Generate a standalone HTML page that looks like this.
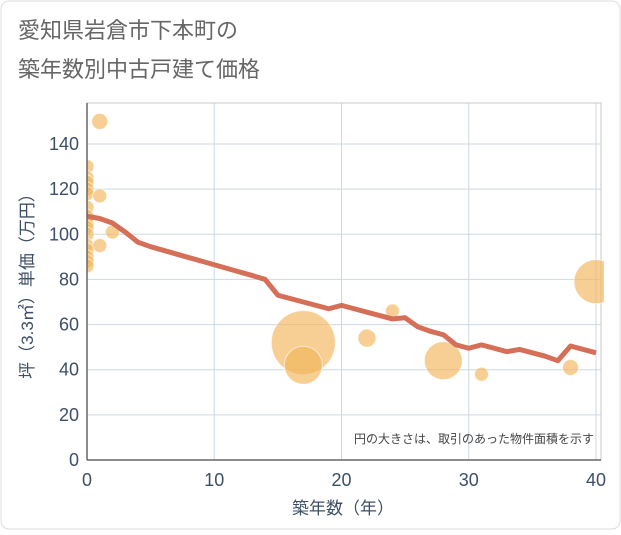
<!DOCTYPE html>
<html><head><meta charset="utf-8"><style>
body{margin:0;background:#fff}
#wrap{position:relative;width:621px;height:530px;background:#fff;font-family:"Liberation Sans","Noto Sans CJK JP",sans-serif}
</style></head><body>
<div id="wrap">
<svg id="c" width="621" height="530" xmlns="http://www.w3.org/2000/svg">
<rect x="1" y="1" width="619" height="528" rx="8" fill="#fff" stroke="#ddd"/>
<text x="18" y="38" font-size="22" fill="#666" font-family="Liberation Sans,Noto Sans CJK JP,sans-serif">愛知県岩倉市下本町の</text>
<text x="18" y="77" font-size="22" fill="#666" font-family="Liberation Sans,Noto Sans CJK JP,sans-serif">築年数別中古戸建て価格</text>
<g id="grid"></g>
<g id="bubbles"></g>
<g id="line"></g>
<g id="axes"></g>
<text x="594" y="443" font-size="12" fill="#444" text-anchor="end" font-family="Liberation Sans,Noto Sans CJK JP,sans-serif">円の大きさは、取引のあった物件面積を示す</text>
<text x="343" y="514" font-size="17" fill="#3d4f66" text-anchor="middle" font-family="Liberation Sans,Noto Sans CJK JP,sans-serif">築年数（年）</text>
<text transform="translate(33,282) rotate(-90)" font-size="17" fill="#3d4f66" text-anchor="middle" font-family="Liberation Sans,Noto Sans CJK JP,sans-serif">坪（3.3㎡）単価（万円）</text>
</svg>
</div>
<script>
const xTicks=[0,10,20,30,40];
const yTicks=[0,20,40,60,80,100,120,140];
const lineYears=[0,1,2,3,4,5,6,7,8,9,10,11,12,13,14,15,16,17,18,19,20,21,22,23,24,25,26,27,28,29,30,31,32,33,34,35,36,37,38,39,40];
const linePrices=[108,107,105,101,96.5,94.5,92.9,91.3,89.7,88.1,86.5,84.9,83.3,81.7,80,73,71.5,70,68.5,67,68.5,67,65.5,64,62.5,63,59,57,55.5,51,49.5,51,49.5,48,49,47.5,46,44,50.5,49,47.5];
const bubbleYears=[0,0,0,0,0,0,0,0,0,0,0,0,0,0,0,1,1,1,2,17,17,22,24,28,31,38,40];
const bubblePrices=[130,125,123,120,118,112,108,105,103,100,95,93,90,88,86,150,117,95,101,52,42,54,66,44,38,41,79];
const bubbleSizes=[7,7,7,7,7,7,7,7,7,7,7,7,7,7,7,8,7,7,7,32,19,9,7,19,7,8,22];
const NS="http://www.w3.org/2000/svg";
const L=87,R=601,T=103,B=460;
const x=v=>L+v*(596-L)/40;
const y=v=>B-v*(B-144)/140;
const mk=(t,a,p)=>{const e=document.createElementNS(NS,t);for(const k in a)e.setAttribute(k,a[k]);p.appendChild(e);return e;};
const grid=document.getElementById('grid'),axes=document.getElementById('axes');
yTicks.forEach(v=>{
 const g=mk('line',{x1:L,x2:R,y1:y(v),y2:y(v),stroke:'#cdd8e4','stroke-width':1},grid);
 
 
 const t=mk('text',{x:L-8,y:y(v)+6,'font-size':18,fill:'#3d4f66','text-anchor':'end'},axes);
 t.textContent=v;
 
 
});
xTicks.forEach(v=>{
 const g=mk('line',{x1:x(v),x2:x(v),y1:T,y2:B,stroke:'#cdd8e4','stroke-width':1},grid);
 
 
 const t=mk('text',{x:x(v),y:B+26,'font-size':18,fill:'#3d4f66','text-anchor':'middle'},axes);
 t.textContent=v;
 
 
});
const fr=mk('rect',{x:L,y:T,width:R-L,height:B-T,fill:'none',stroke:'#c8c8c8'},grid);


const ya=mk('line',{x1:L,x2:L,y1:T,y2:B,stroke:'#666','stroke-width':1.5},axes);


const xa=mk('line',{x1:L,x2:R,y1:B,y2:B,stroke:'#666','stroke-width':1.5},axes);


const bub=document.getElementById('bubbles');
mk('clipPath',{id:'clp'},bub).appendChild(document.createElementNS(NS,'rect'));
const cr=bub.querySelector('clipPath rect');cr.setAttribute('x',L);cr.setAttribute('y',T);cr.setAttribute('width',R-L+3);cr.setAttribute('height',B-T);
bub.setAttribute('clip-path','url(#clp)');
bubbleYears.forEach((yr,i)=>{
 const c=mk('circle',{cx:x(yr),cy:y(bubblePrices[i]),r:bubbleSizes[i],fill:'#f2b65b','fill-opacity':0.65,stroke:'#fff','stroke-opacity':0.6,'stroke-width':1},bub);
 
 
});
const pts=lineYears.map((yr,i)=>x(yr)+','+y(linePrices[i])).join(' ');
const pl=mk('polyline',{points:pts,fill:'none',stroke:'#d56f58','stroke-width':5,'stroke-linejoin':'round'},document.getElementById('line'));


</script>
</body></html>
